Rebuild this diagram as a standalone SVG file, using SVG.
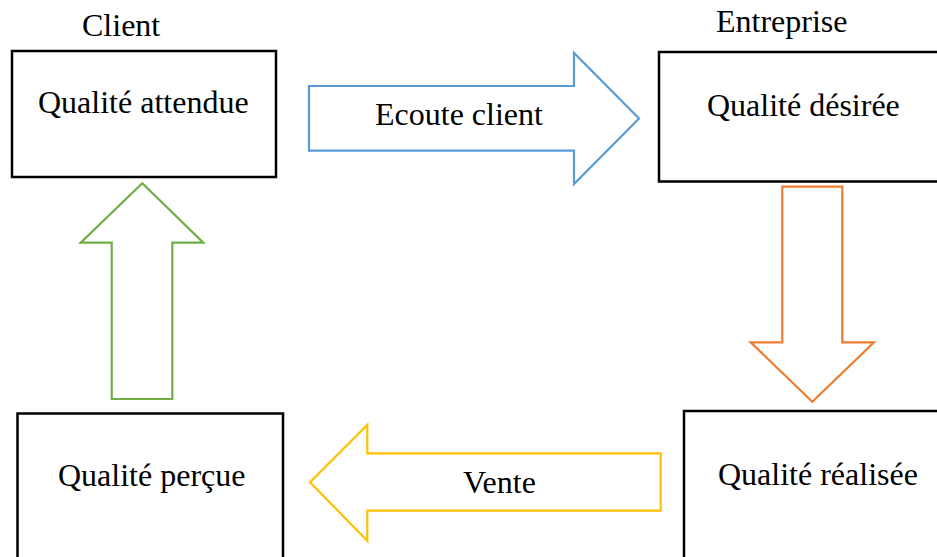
<svg xmlns="http://www.w3.org/2000/svg" width="937" height="557" viewBox="0 0 937 557">
  <style>
    .box { fill: #ffffff; stroke: #000000; stroke-width: 2.5; }
    .t { font-family: "Liberation Serif", "Times New Roman", serif; font-size: 32px; fill: #000000; }
    .arrow { fill: #ffffff; stroke-width: 2.2; stroke-linejoin: miter; }
  </style>
  <rect width="937" height="557" fill="#ffffff"/>
  <text class="t" x="82" y="36">Client</text>
  <text class="t" x="716" y="32">Entreprise</text>

  <g id="qualite-attendue">
    <rect class="box" x="12" y="51" width="264" height="126"/>
    <text class="t" x="38" y="113">Qualité attendue</text>
  </g>
  <g id="qualite-desiree">
    <rect class="box" x="659" y="52" width="300" height="129.5"/>
    <text class="t" x="707" y="116">Qualité désirée</text>
  </g>
  <g id="qualite-realisee">
    <rect class="box" x="684" y="411" width="300" height="170"/>
    <text class="t" x="718" y="485">Qualité réalisée</text>
  </g>
  <g id="qualite-percue">
    <rect class="box" x="17.5" y="413.5" width="265.5" height="170"/>
    <text class="t" x="58" y="486">Qualité perçue</text>
  </g>

  <g id="connectors">
    <g id="ecoute-client">
      <polygon class="arrow" stroke="#5B9BD5" points="309,86 574,86 574,53 639,118.5 574,184 574,150.7 309,150.7"/>
      <text class="t" x="375" y="125">Ecoute client</text>
    </g>
    <g id="realisation">
      <polygon class="arrow" stroke="#ED7D31" points="782.3,186.7 842.3,186.7 842.3,342.3 874,342.3 812.3,401.7 750.7,342.3 782.3,342.3"/>
    </g>
    <g id="vente">
      <polygon class="arrow" stroke="#FFC000" points="660.7,453.3 367.3,453.3 367.3,425 310,482.3 367.3,540.7 367.3,510.7 660.7,510.7"/>
      <text class="t" x="463" y="493">Vente</text>
    </g>
    <g id="perception">
      <polygon class="arrow" stroke="#70AD47" points="111.7,399 111.7,242.7 80.7,242.7 142.3,183.3 203.3,242.7 172.3,242.7 172.3,399"/>
    </g>
  </g>
</svg>
